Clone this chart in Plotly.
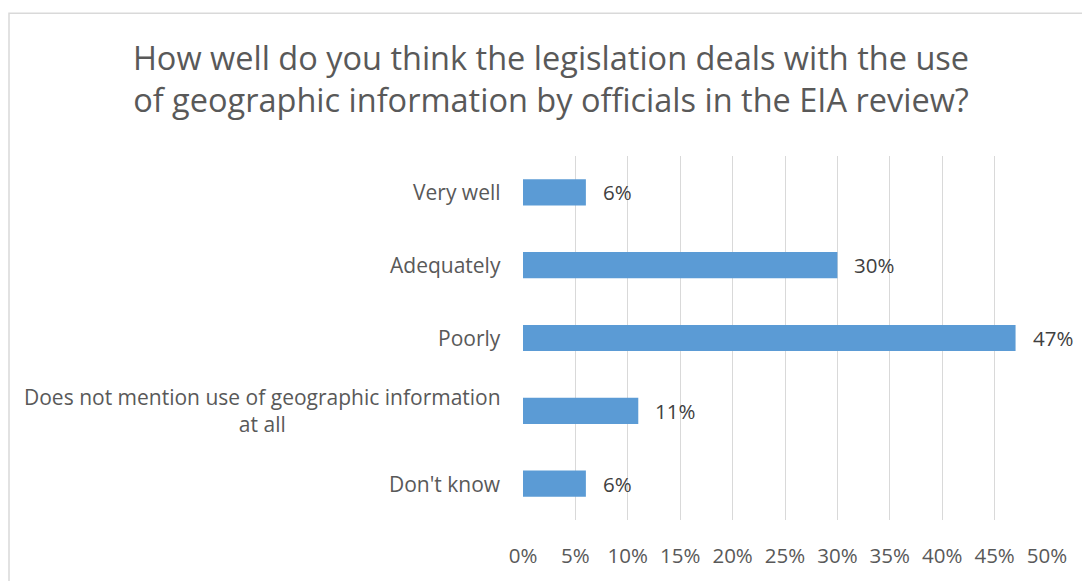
import plotly.graph_objects as go

categories = [
    "Very well",
    "Adequately",
    "Poorly",
    "Does not mention use of geographic information<br>at all",
    "Don't know",
]
values = [6, 30, 47, 11, 6]
x_ticks = [0, 5, 10, 15, 20, 25, 30, 35, 40, 45, 50]
tick_labels = [f"{v}%" for v in x_ticks]
title_text = ("How well do you think the legislation deals with the use<br>"
              "of geographic information by officials in the EIA review?")

W, H = 1082, 581
L, R, T, B = 523, 35, 156, 55
FONT = "Open Sans"
GREY = "#595959"
LABEL_SIZE = 20.5

fig = go.Figure(go.Bar(
    y=categories,
    x=values,
    orientation="h",
    marker=dict(color="#5b9bd5", line=dict(width=0)),
    width=0.36,
    hoverinfo="skip",
))

# value labels to the right of each bar
for c, v in zip(categories, values):
    fig.add_annotation(x=v, y=c, xref="x", yref="y", text=f"{v}%",
                       showarrow=False, xanchor="left", xshift=15,
                       font=dict(family=FONT, size=LABEL_SIZE, color="#404040"))

# category labels, centred within their own block
for c in categories:
    fig.add_annotation(x=0, y=c, xref="x", yref="y", text=c,
                       showarrow=False, xanchor="right", align="center",
                       xshift=-20,
                       font=dict(family=FONT, size=21, color=GREY))

pw = W - L - R
ph = H - T - B
# chart-area border
fig.add_shape(type="rect", xref="paper", yref="paper",
              x0=(9 - L) / pw, x1=(W + 20 - L) / pw,
              y0=(H - B - (H + 20)) / ph, y1=(H - B - 11) / ph,
              line=dict(color="#d9d9d9", width=1.5), fillcolor="rgba(0,0,0,0)",
              layer="below")

fig.update_layout(
    width=W, height=H,
    margin=dict(l=L, r=R, t=T, b=B),
    paper_bgcolor="white", plot_bgcolor="white",
    showlegend=False,
    title=dict(text=title_text, x=551 / W, xanchor="center",
               y=1 - 70 / H, yanchor="middle",
               font=dict(family=FONT, size=32.5, color=GREY)),
    xaxis=dict(range=[0, 50], tickvals=x_ticks, ticktext=tick_labels,
               showgrid=True, gridcolor="#d9d9d9", gridwidth=1.3,
               zeroline=False, showline=False, ticks="",
               ticklabelstandoff=21,
               tickfont=dict(family=FONT, size=LABEL_SIZE, color=GREY)),
    yaxis=dict(autorange="reversed", showticklabels=False, showgrid=False,
               zeroline=False, showline=False, ticks="",
               range=[4.5, -0.5]),
)

fig.write_html("out.html")
